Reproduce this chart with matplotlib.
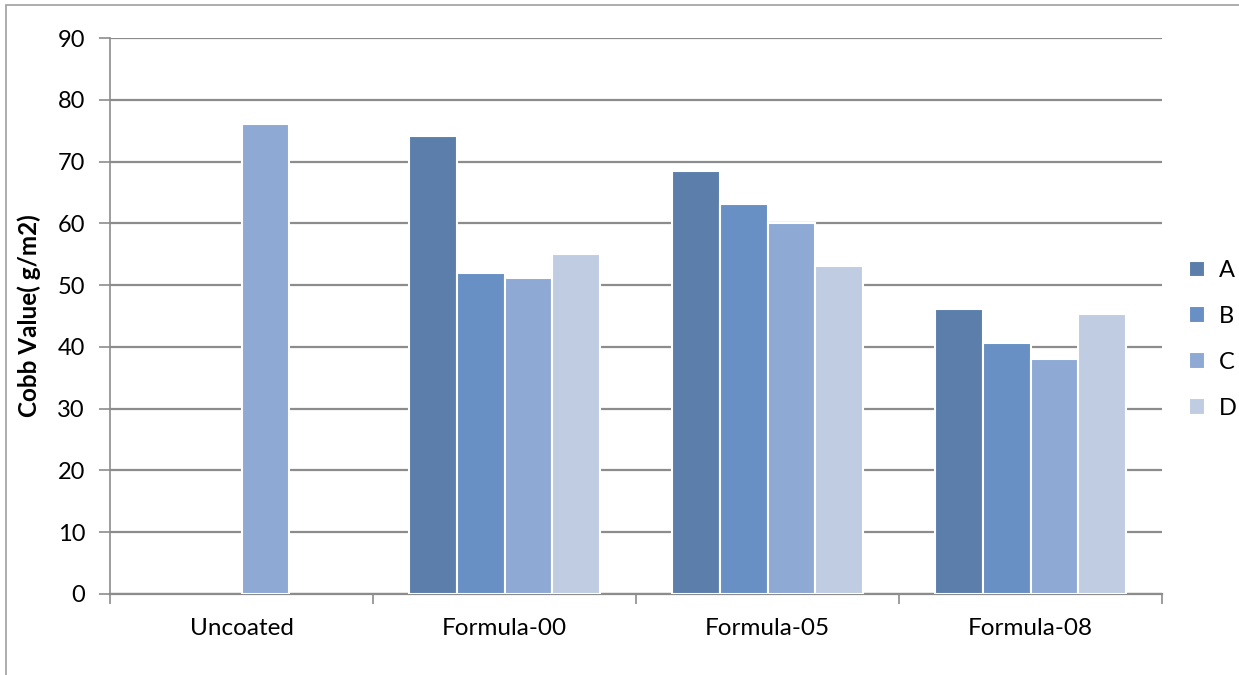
import numpy as np
import matplotlib.pyplot as plt
from matplotlib.patches import Rectangle

plt.rcParams['font.family'] = ['Lato', 'DejaVu Sans']

groups = ["Uncoated", "Formula-00", "Formula-05", "Formula-08"]
series = ["A", "B", "C", "D"]
colors = ["#5b7eaa", "#6890c4", "#8eaad4", "#c0cce2"]

# NaN where a sample was not measured
values = {
    "A": [np.nan, 74.1, 68.5, 46.1],
    "B": [np.nan, 51.9, 63.1, 40.7],
    "C": [76.1, 51.2, 60.0, 38.1],
    "D": [np.nan, 55.0, 53.1, 45.3],
}

fig = plt.figure(figsize=(12.39, 6.75), dpi=100)
ax = fig.add_axes([0.0888, 0.12, 0.8491, 0.8237])

# outer chart frame
fig.patches.append(Rectangle((6 / 1239, -0.1), 1.2, (675 - 5) / 675 + 0.1,
                             transform=fig.transFigure, fill=False,
                             edgecolor="#a0a0a0", lw=1.2))

x = np.arange(len(groups))
step = 0.181
for i, s in enumerate(series):
    off = (i - 1.5) * step
    ax.bar(x + off, values[s], width=step, color=colors[i],
           edgecolor="white", linewidth=1.5, label=s, zorder=3)

ax.set_ylim(0, 90)
ax.set_xlim(-0.5, len(groups) - 0.5)
ax.set_yticks(np.arange(0, 91, 10))
ax.yaxis.grid(True, color="#8c8c8c", lw=1.6, zorder=0)
ax.set_axisbelow(True)

ax.set_xticks(x)
ax.set_xticklabels(groups, fontsize=17.5)
ax.tick_params(axis="x", length=0, pad=17)
ax.set_xticks(np.arange(-0.5, len(groups)), minor=True)
ax.tick_params(axis="x", which="minor", length=7, color="#8c8c8c", width=1.2)
ax.tick_params(axis="y", length=8, color="#8c8c8c", width=1.2, labelsize=17, pad=10)

for sp in ["top", "right"]:
    ax.spines[sp].set_visible(False)
ax.spines["left"].set_color("#8c8c8c")
ax.spines["bottom"].set_color("#8c8c8c")
ax.spines["left"].set_linewidth(1.2)
ax.spines["bottom"].set_linewidth(1.6)

ax.set_ylabel("Cobb Value( g/m2)", fontsize=17.5, fontweight="bold", labelpad=12)

ax.legend(loc="center left", bbox_to_anchor=(1.005, 0.458), frameon=False,
          fontsize=17, handlelength=0.7, handleheight=0.7, labelspacing=1.05,
          handletextpad=0.6)

fig.savefig("out.png", dpi=100)
